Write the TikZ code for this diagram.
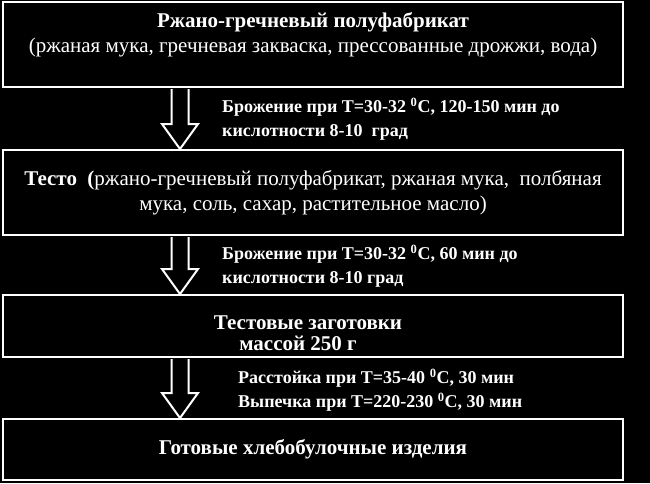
\documentclass[tikz,border=0pt]{standalone}
\usepackage{fontspec}
\setmainfont{Liberation Serif}
\usetikzlibrary{calc}
\tikzset{
 box/.style={draw=white,line width=2pt,fill=black,text=white,minimum width=620pt,inner sep=0pt,align=center},
 lbl/.style={text=white,font=\bfseries\fontsize{18}{24}\selectfont,align=left,anchor=west,inner sep=0pt},
 arr/.style={draw=white,line width=2pt,fill=black,line join=miter}
}
\newcommand{\mkarrow}[2]{%
 \path let \p1=(#1), \p2=(#2) in coordinate (s) at (180pt,\y1) coordinate (t) at (180pt,\y2);
 \draw[arr] ($(s)+(-8.5pt,-1pt)$) -- ($(t)+(-8.5pt,25pt)$) -- ($(t)+(-18pt,25pt)$) -- (t) -- ($(t)+(18pt,25pt)$) -- ($(t)+(8.5pt,25pt)$) -- ($(s)+(8.5pt,-1pt)$);
}
\begin{document}
\begin{tikzpicture}[x=1pt,y=1pt]
\fill[black] (0,0) rectangle (650,-483);
\useasboundingbox (0,0) rectangle (650,-483);
\node[box,minimum height=85pt,font=\fontsize{21}{25}\selectfont] (b1) at (313,-44.5) {\textbf{Ржано-гречневый полуфабрикат}\\(ржаная мука, гречневая закваска, прессованные дрожжи, вода)\\[0pt]};
\node[box,minimum height=85pt,font=\fontsize{21}{25}\selectfont] (b2) at (313,-192.5) {\textbf{Тесто\ \ (}ржано-гречневый полуфабрикат, ржаная мука,\ \ полбяная\\мука, соль, сахар, растительное масло)};
\node[box,minimum height=62pt] (b3) at (313,-326) {};
\node[text=white,align=center,inner sep=0pt,font=\bfseries\fontsize{21}{21}\selectfont] (t3) at ([yshift=-7pt]b3.center) {\hspace*{-10pt}Тестовые заготовки\\\hspace*{-30pt}массой 250 г};
\node[box,minimum height=61pt,font=\bfseries\fontsize{21}{25}\selectfont] (b4) at (313,-449.5) {Готовые хлебобулочные изделия};
\mkarrow{b1.south}{b2.north}
\mkarrow{b2.south}{b3.north}
\mkarrow{b3.south}{b4.north}
\node[lbl] (l1) at (222,-119) {Брожение при Т=30-32 \textsuperscript{0}С, 120-150 мин до\\кислотности 8-10\ \ град};
\node[lbl] (l2) at (222,-266) {Брожение при Т=30-32 \textsuperscript{0}С, 60 мин до\\кислотности 8-10 град};
\node[lbl] (l3) at (238,-390) {Расстойка при Т=35-40 \textsuperscript{0}С, 30 мин\\Выпечка при Т=220-230 \textsuperscript{0}С, 30 мин};
\end{tikzpicture}
\end{document}
